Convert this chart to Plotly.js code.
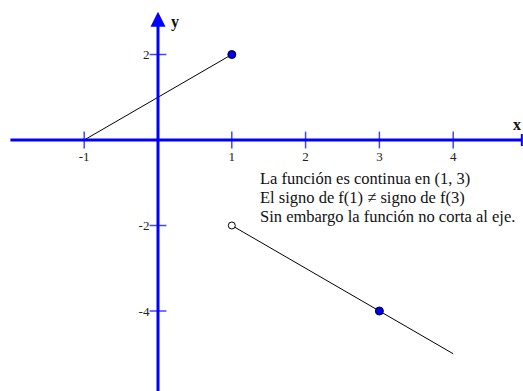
<!DOCTYPE html>
<html>
<head>
<meta charset="utf-8">
<script src="https://cdn.plot.ly/plotly-3.0.1.min.js"></script>
<style>
  html, body { margin: 0; padding: 0; background: #ffffff; }
  #chart { width: 523px; height: 391px; }
</style>
</head>
<body>
<div id="chart"></div>
<script>
// piecewise function: two segments, jump at x = 1
const seg1X = [-1, 1];
const seg1Y = [0, 2];
const seg2X = [1, 4];
const seg2Y = [-2, -5];

const filledX = [1, 3];
const filledY = [2, -4];
const openX = [1];
const openY = [-2];

const xTickVals = [-1, 1, 2, 3, 4];
const xTickText = ["-1", "1", "2", "3", "4"];
const yTickVals = [2, -2, -4];
const yTickText = ["2", "-2", "-4"];

const noteLines = [
  "La función es continua en (1, 3)",
  "El signo de f(1) ≠ signo de f(3)",
  "Sin embargo la función no corta al eje."
];

const xRange = [-2.141, 4.946];
const yRange = [-5.871, 3.275];
const axisBlue = "#0000ff";
const serif = "Liberation Serif, Times New Roman, serif";

const xAxisPos = (0 - yRange[0]) / (yRange[1] - yRange[0]);
const yAxisPos = (0 - xRange[0]) / (xRange[1] - xRange[0]);

const traces = [
  {
    type: "scatter", mode: "lines", x: seg1X, y: seg1Y,
    line: { color: "#000000", width: 1 }, hoverinfo: "skip"
  },
  {
    type: "scatter", mode: "lines", x: seg2X, y: seg2Y,
    line: { color: "#000000", width: 1 }, hoverinfo: "skip"
  },
  {
    // x-axis tick marks crossing the axis
    type: "scatter", mode: "markers",
    x: xTickVals, y: xTickVals.map(() => 0),
    marker: { symbol: "line-ns", size: 12, line: { color: "#4444ff", width: 1.5 } },
    hoverinfo: "skip"
  },
  {
    type: "scatter", mode: "markers",
    x: yTickVals.map(() => 0), y: yTickVals,
    marker: { symbol: "line-ew", size: 12, line: { color: "#4444ff", width: 1.5 } },
    hoverinfo: "skip"
  },
  {
    type: "scatter", mode: "markers", x: filledX, y: filledY,
    marker: { size: 8, color: "#0000ee", line: { color: "#000033", width: 1 } }
  },
  {
    type: "scatter", mode: "markers", x: openX, y: openY,
    marker: { size: 7, color: "#ffffff", line: { color: "#000000", width: 1 } }
  }
];

const noteAnnotations = noteLines.map((line, i) => ({
  x: 1.35, y: -0.62, xref: "x", yref: "y",
  yshift: -19 * i,
  text: line,
  showarrow: false, xanchor: "left", yanchor: "top", align: "left",
  font: { family: serif, size: 16.5, color: "#111111" }
}));

const layout = {
  width: 523,
  height: 391,
  margin: { l: 0, r: 0, t: 0, b: 0 },
  paper_bgcolor: "#ffffff",
  plot_bgcolor: "#ffffff",
  showlegend: false,
  font: { family: serif, size: 12, color: "#333333" },
  xaxis: {
    range: xRange,
    anchor: "free",
    position: xAxisPos,
    tickmode: "array",
    tickvals: xTickVals,
    ticktext: xTickText,
    ticks: "outside",
    ticklen: 4,
    tickcolor: "rgba(0,0,0,0)",
    showgrid: false,
    zeroline: false,
    showline: false,
    tickfont: { family: serif, size: 13, color: "#222222" }
  },
  yaxis: {
    range: yRange,
    anchor: "free",
    position: yAxisPos,
    tickmode: "array",
    tickvals: yTickVals,
    ticktext: yTickText,
    ticks: "outside",
    ticklen: 6,
    tickcolor: "rgba(0,0,0,0)",
    showgrid: false,
    zeroline: false,
    showline: false,
    tickfont: { family: serif, size: 13, color: "#222222" }
  },
  shapes: [
    { type: "line", x0: -2.0, x1: 4.93, y0: 0, y1: 0, line: { color: axisBlue, width: 3 } },
    { type: "line", x0: 4.93, x1: 4.93, y0: -0.14, y1: 0.14, line: { color: axisBlue, width: 2 } },
    { type: "line", x0: 0, x1: 0, y0: yRange[0], y1: 2.75, line: { color: axisBlue, width: 3 } }
  ],
  annotations: [
    {
      x: 0, y: 3.0, xref: "x", yref: "y",
      ax: 0, ay: 12, text: "",
      showarrow: true, arrowhead: 2, arrowsize: 1, arrowwidth: 3, arrowcolor: axisBlue
    },
    {
      x: 0.23, y: 2.76, xref: "x", yref: "y", text: "<b>y</b>",
      showarrow: false, font: { family: serif, size: 16, color: "#111111" }
    },
    {
      x: 1, y: 0.37, xref: "paper", yref: "y", text: "<b>x</b>",
      showarrow: false, xanchor: "right", font: { family: serif, size: 16, color: "#111111" }
    },
    ...noteAnnotations
  ]
};

Plotly.newPlot("chart", traces, layout, { displayModeBar: false, staticPlot: true });
</script>
</body>
</html>
